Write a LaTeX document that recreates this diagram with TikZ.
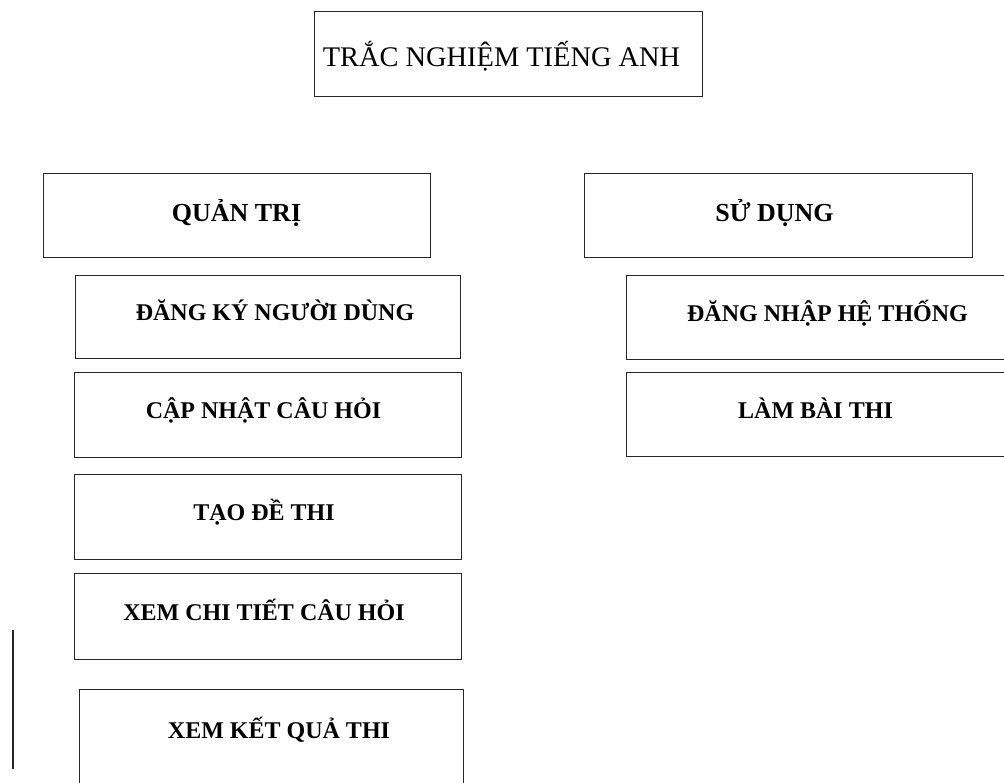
\documentclass[tikz,border=0pt]{standalone}
\usepackage{fontspec}
\setmainfont{Liberation Serif}
\begin{document}
\begin{tikzpicture}[x=1pt,y=-1pt,
  box/.style={draw=black!85,line width=1.1pt,rectangle,inner sep=0pt,anchor=north west},
  ttl/.style={font=\fontsize{28.4}{32}\selectfont,anchor=base,inner sep=0pt},
  hdr/.style={font=\fontsize{26}{30}\selectfont\bfseries,anchor=base,inner sep=0pt},
  itm/.style={font=\fontsize{24}{28}\selectfont\bfseries,anchor=base,inner sep=0pt}]
\useasboundingbox (0,0) rectangle (1004,782);
\clip (0,0) rectangle (1004,782);
% boxes
\node[box,minimum width=388pt,minimum height=85pt] (title) at (314,11) {};
\node[box,minimum width=387pt,minimum height=84pt] (qt) at (43,173) {};
\node[box,minimum width=388pt,minimum height=84pt] (sd) at (584,173) {};
\node[box,minimum width=385pt,minimum height=83pt] (dk) at (75,275) {};
\node[box,minimum width=387pt,minimum height=85pt] (cn) at (74,372) {};
\node[box,minimum width=387pt,minimum height=85pt] (td) at (74,474) {};
\node[box,minimum width=387pt,minimum height=86pt] (xc) at (74,573) {};
\node[box,minimum width=384pt,minimum height=120pt] (xk) at (79,689) {};
\node[box,minimum width=400pt,minimum height=84pt] (dn) at (626,275) {};
\node[box,minimum width=400pt,minimum height=84pt] (lb) at (626,372) {};
% texts
\node[ttl] (titleT) at (501.5,66) {TRẮC NGHIỆM TIẾNG ANH};
\node[hdr] (qtT) at (236.5,221) {QUẢN TRỊ};
\node[hdr] (sdT) at (774.5,221) {SỬ DỤNG};
\node[itm] (dkT) at (275,320) {ĐĂNG KÝ NGƯỜI DÙNG};
\node[itm] (cnT) at (263.5,418) {CẬP NHẬT CÂU HỎI};
\node[itm] (tdT) at (264,520) {TẠO ĐỀ THI};
\node[itm] (xcT) at (264,620) {XEM CHI TIẾT CÂU HỎI};
\node[itm] (xkT) at (279,738) {XEM KẾT QUẢ THI};
\node[itm] (dnT) at (827.5,321) {ĐĂNG NHẬP HỆ THỐNG};
\node[itm] (lbT) at (815.5,418) {LÀM BÀI THI};
% stray vertical line
\coordinate (v1) at (13,630);
\coordinate (v2) at (13,769);
\draw[black!85,line width=1.1pt] (v1) -- (v2);
\end{tikzpicture}
\end{document}
